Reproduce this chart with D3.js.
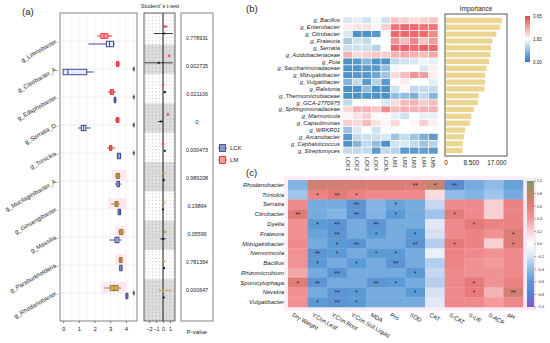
<!DOCTYPE html>
<html>
<head>
<meta charset="utf-8">
<script src="https://cdn.jsdelivr.net/npm/d3@7"></script>
<style>
  body { margin: 0; background: #fff; }
  text { font-family: "Liberation Sans", Arial, sans-serif; fill: #222; }
</style>
</head>
<body>
<svg id="chart" width="550" height="343"></svg>
<script>
// ---------- panel (a) data ----------
const genera = ["g_Limnobacter", "g_Citrobacter_A", "g_Edaphobacter", "g_Serratia_D", "g_Trinickia",
  "g_Mucilaginibacter_A", "g_Ginsengibacter", "g_Massilia", "g_Paraburkholderia", "g_Rhodanobacter"];
// [min, q1, median, q3, max]
const lmBox = [[2.2, 2.4, 2.6, 2.85, 3.1], [3.35, 3.4, 3.48, 3.55, 3.6], [2.85, 3.0, 3.1, 3.2, 3.35],
  [3.3, 3.38, 3.45, 3.55, 3.6], [2.8, 2.95, 3.05, 3.1, 3.3], [3.3, 3.38, 3.48, 3.58, 3.65],
  [3.05, 3.3, 3.4, 3.5, 3.6], [3.5, 3.58, 3.68, 3.8, 3.9], [3.5, 3.58, 3.65, 3.75, 3.8],
  [2.6, 3.0, 3.25, 3.5, 3.7]];
const lckBox = [[1.6, 2.75, 2.95, 3.2, 3.3], [0.0, 0.0, 0.3, 1.5, 1.95], [3.2, 3.25, 3.3, 3.35, 3.4],
  [0.95, 1.15, 1.3, 1.45, 1.75], [3.4, 3.45, 3.55, 3.65, 3.7], [3.3, 3.42, 3.5, 3.58, 3.7],
  [3.45, 3.5, 3.58, 3.65, 3.7], [2.95, 3.3, 3.42, 3.55, 3.7], [3.55, 3.6, 3.68, 3.75, 3.8],
  [3.95, 4.0, 4.05, 4.12, 4.15]];
const shaded = [0, 0, 0, 0, 0, 1, 1, 1, 1, 1];
const edgeMark = [0, 1, 1, 1, 1, 0, 0, 0, 0, 1];
// t-test: [mean, lo, hi]
const tLm = [[0.3, -0.1, 0.7], [0.85, 0.8, 0.9], [0.0, -0.1, 0.1], [0.7, 0.6, 0.8], [0.0, -0.15, 0.15],
  [0.1, 0.0, 0.2], [0.1, -0.1, 0.3], [0.3, 0.2, 0.4], [0.1, 0.0, 0.2], [0.0, -0.7, 1.3]];
const tDiff = [[0.15, -1.3, 1.4], [-0.6, -2.6, 1.4], [0.25, 0.1, 0.4], [-0.3, -0.7, 0.0], [0.25, 0.15, 0.35],
  [0.1, 0.0, 0.2], [0.0, -0.1, 0.1], [0.0, -0.4, 0.4], [0.15, 0.05, 0.25], [0.1, 0.0, 0.2]];
const pValues = ["0.778931", "0.002725", "0.021106", "0", "0.000473", "0.989208", "0.19864", "0.05599", "0.781354", "0.000647"];
const boxTicks = [0, 1, 2, 3, 4];
const tTicks = [-2, -1, 0, 1];

// ---------- panel (b) data ----------
const taxaB = ["g_Bacillus", "g_Enterobacter", "g_Citrobacter", "g_Frateuria", "g_Serratia", "g_Acidobacteriaceae",
  "g_Puia", "g_Saccharimonadaceae", "g_Mizugakiibacter", "g_Vulgatibacter", "g_Ralstonia", "g_Thermomicrobiaceae",
  "g_GCA-2770975", "g_Sphingomonadaceae", "g_Marmoricola", "g_Capsulimonas", "g_WRKR01", "g_Arcanobacter",
  "g_Cephaloticoccus", "g_Streptomyces"];
const samples = ["LCK1", "LCK2", "LCK3", "LCK4", "LCK5", "LM1", "LM2", "LM3", "LM4", "LM5"];
const abund = [
  [1.5, 1.6, 1.4, 1.7, 1.4, 2.4, 2.3, 2.2, 2.3, 2.4],
  [2.0, 2.1, 2.1, 1.9, 2.3, 3.2, 3.3, 3.3, 3.2, 3.2],
  [1.5, 0.3, 0.3, 0.4, 1.9, 3.3, 3.3, 3.3, 3.3, 3.0],
  [1.1, 1.4, 1.3, 1.8, 1.8, 2.9, 2.5, 3.0, 2.4, 2.8],
  [1.4, 1.4, 1.4, 1.2, 1.8, 3.3, 3.4, 3.3, 3.4, 3.3],
  [2.6, 2.2, 2.3, 2.4, 2.3, 2.6, 2.7, 2.6, 2.5, 2.7],
  [0.3, 0.4, 0.8, 0.3, 0.3, 1.3, 1.4, 1.5, 1.7, 1.6],
  [0.3, 0.3, 0.4, 0.4, 0.9, 1.7, 1.8, 1.8, 1.5, 2.0],
  [0.3, 0.4, 0.4, 0.6, 1.0, 2.2, 2.5, 2.9, 2.8, 2.0],
  [0.8, 1.3, 0.4, 1.2, 0.4, 1.8, 2.0, 1.8, 1.8, 1.6],
  [0.3, 0.3, 0.9, 0.3, 0.3, 1.4, 1.9, 1.3, 1.3, 1.3],
  [0.3, 0.3, 0.3, 0.3, 0.3, 0.9, 0.9, 0.7, 1.3, 0.8],
  [1.3, 1.8, 1.9, 1.8, 1.5, 2.2, 2.5, 2.6, 2.3, 2.5],
  [2.2, 2.6, 2.6, 2.4, 3.0, 2.5, 2.6, 2.6, 2.6, 2.6],
  [1.9, 2.1, 2.3, 1.9, 1.9, 1.6, 1.4, 1.8, 1.6, 1.6],
  [2.3, 2.2, 2.5, 2.1, 1.9, 2.2, 1.8, 1.9, 2.3, 2.0],
  [1.0, 1.5, 1.8, 1.4, 1.8, 1.8, 1.8, 1.8, 1.8, 1.8],
  [0.4, 1.3, 1.4, 1.4, 1.5, 1.0, 1.3, 1.0, 0.7, 0.4],
  [0.3, 0.8, 1.3, 0.9, 0.3, 1.4, 1.5, 1.3, 1.0, 1.2],
  [1.3, 1.3, 1.3, 0.4, 1.3, 1.2, 0.4, 0.4, 0.5, 0.4]];
const importance = [18.6, 18.1, 16.8, 15.4, 15.0, 14.8, 14.3, 13.5, 13.0, 13.0,
  12.8, 10.9, 10.6, 9.3, 8.4, 7.9, 6.4, 6.0, 5.6, 5.5];
const impTicks = [0, 8.5, 17];
const abundTicks = [0, 1.82, 3.65];

// ---------- panel (c) data ----------
const taxaC = ["Rhodanobacter", "Trinickia", "Serratia", "Citrobacter", "Dyella", "Frateuria", "Mizugakiibacter",
  "Nemorincola", "Bacillus", "Rhizomicrobium", "Sporocytophaga", "Nevskia", "Vulgatibacter"];
const factors = ["Dry Weight", "Y.Con.Leaf", "Y.Con.Root", "Y.Con.Soil Liquid", "MDA", "Pro", "SOD", "CAT",
  "S-CAT", "S-UE", "S-ACP", "pH"];
const corr = [
  [-0.45, 0.7, 0.7, 0.68, 0.66, 0.66, 0.65, 0.75, -0.7, -0.5, -0.4, -0.55],
  [-0.35, 0.55, 0.62, 0.55, 0.5, 0.5, 0.5, 0.15, -0.4, -0.45, -0.35, -0.5],
  [0.5, -0.5, -0.5, -0.65, -0.45, -0.55, -0.5, -0.25, 0.5, 0.5, 0.2, 0.55],
  [0.65, -0.5, -0.45, -0.65, -0.45, -0.6, -0.5, -0.35, 0.62, 0.5, 0.2, 0.55],
  [0.45, -0.6, -0.65, -0.5, -0.65, -0.5, -0.5, -0.15, 0.5, 0.62, 0.55, 0.55],
  [0.45, -0.55, -0.65, -0.5, -0.6, -0.5, -0.6, -0.2, 0.5, 0.55, 0.45, 0.65],
  [0.5, -0.5, -0.6, -0.65, -0.5, -0.5, -0.65, -0.3, 0.62, 0.55, 0.2, 0.65],
  [0.45, -0.65, -0.6, -0.5, -0.6, -0.6, -0.5, -0.1, 0.55, 0.5, 0.45, 0.5],
  [0.45, -0.6, -0.5, -0.6, -0.5, -0.65, -0.5, -0.3, 0.55, 0.45, 0.4, 0.5],
  [0.35, -0.5, -0.65, -0.5, -0.5, -0.5, -0.6, -0.25, 0.5, 0.45, 0.45, 0.5],
  [0.65, -0.65, -0.5, -0.5, -0.65, -0.6, -0.5, -0.3, 0.5, 0.62, 0.45, 0.55],
  [0.45, -0.5, -0.65, -0.6, -0.5, -0.5, -0.6, -0.2, 0.5, 0.6, 0.3, 0.7],
  [0.45, -0.6, -0.65, -0.6, -0.5, -0.5, -0.5, -0.15, 0.5, 0.5, 0.4, 0.5]];
// [row, col, mark]
const stars = [[0, 6, "**"], [0, 7, "*"], [0, 8, "**"],
  [1, 1, "*"], [1, 2, "**"], [1, 3, "*"],
  [2, 3, "**"], [2, 5, "*"],
  [3, 0, "**"], [3, 3, "**"], [3, 5, "*"], [3, 8, "*"],
  [4, 1, "*"], [4, 2, "**"], [4, 4, "**"], [4, 9, "*"],
  [5, 2, "**"], [5, 4, "*"], [5, 6, "*"], [5, 11, "*"],
  [6, 2, "*"], [6, 3, "**"], [6, 6, "**"], [6, 8, "*"], [6, 11, "*"],
  [7, 1, "**"], [7, 2, "*"], [7, 4, "*"], [7, 5, "*"],
  [8, 1, "*"], [8, 3, "*"], [8, 5, "**"],
  [9, 2, "**"], [9, 6, "*"],
  [10, 0, "*"], [10, 1, "**"], [10, 4, "**"], [10, 5, "*"], [10, 9, "*"],
  [11, 2, "**"], [11, 3, "*"], [11, 6, "*"], [11, 9, "*"], [11, 11, "**"],
  [12, 1, "*"], [12, 2, "**"], [12, 3, "*"]];
const corrTicks = [1, 0.8, 0.6, 0.4, 0.2, 0, -0.2, -0.4, -0.6, -0.8, -1];

const svg = d3.select("#chart");
const defs = svg.append("defs");

// ================= panel (a) =================
svg.append("text").attr("x", 22).attr("y", 15).attr("font-size", 9.5).text("(a)");

const xA = d3.scaleLinear().domain([-0.2, 4.7]).range([60, 137]);
const yA = d3.scalePoint().domain(genera).range([13, 321]).padding(1);

const gA = svg.append("g");
gA.selectAll("line.vg").data(d3.range(0, 4.51, 0.5)).join("line")
  .attr("x1", d => xA(d)).attr("x2", d => xA(d)).attr("y1", 13).attr("y2", 321)
  .attr("stroke", "#e6e6e6").attr("stroke-width", 0.6);
gA.selectAll("line.hg").data(genera).join("line")
  .attr("x1", 60).attr("x2", 137).attr("y1", d => yA(d)).attr("y2", d => yA(d))
  .attr("stroke", "#e6e6e6").attr("stroke-width", 0.6);

// pink shading
gA.selectAll("rect.shade").data(genera.filter((g, i) => shaded[i])).join("rect")
  .attr("x", d => xA(lmBox[genera.indexOf(d)][0]) - 3)
  .attr("width", d => xA(4.05) - xA(lmBox[genera.indexOf(d)][0]) + 3)
  .attr("y", d => yA(d) - 11).attr("height", 11)
  .attr("fill", "#fde8f0");

function drawBox(g, vals, cy, stroke, fill, h) {
  const [mn, q1, md, q3, mx] = vals;
  g.append("line").attr("x1", xA(mn)).attr("x2", xA(mx)).attr("y1", cy).attr("y2", cy)
    .attr("stroke", stroke).attr("stroke-width", 0.9);
  g.append("rect").attr("x", xA(q1)).attr("width", Math.max(1.5, xA(q3) - xA(q1)))
    .attr("y", cy - h / 2).attr("height", h)
    .attr("fill", fill).attr("stroke", stroke).attr("stroke-width", 0.9);
  g.append("line").attr("x1", xA(md)).attr("x2", xA(md)).attr("y1", cy - h / 2).attr("y2", cy + h / 2)
    .attr("stroke", stroke).attr("stroke-width", 0.9);
}
genera.forEach((g, i) => {
  const cy = yA(g);
  if (shaded[i]) drawBox(gA, lmBox[i], cy - 5, "#9a7428", "#d7b064", 5);
  else drawBox(gA, lmBox[i], cy - 5, "#e3171c", "#f6b3b3", 4.5);
  drawBox(gA, lckBox[i], cy + 3, "#2e3a8c", "#e8eaf8", 5.5);
  if (edgeMark[i]) {
    gA.append("line").attr("x1", xA(4.52)).attr("x2", xA(4.52)).attr("y1", cy - 3).attr("y2", cy + 3)
      .attr("stroke", "#555").attr("stroke-width", 0.5);
    gA.append("ellipse").attr("cx", xA(4.52) - 0.5).attr("cy", cy).attr("rx", 1).attr("ry", 1.8)
      .attr("fill", "#444");
  }
});
gA.append("rect").attr("x", 60).attr("y", 13).attr("width", 77).attr("height", 308)
  .attr("fill", "none").attr("stroke", "#777").attr("stroke-width", 0.9);

gA.selectAll("text.yl").data(genera).join("text")
  .attr("x", 58).attr("y", d => yA(d) + 1)
  .attr("transform", d => `rotate(-30,58,${yA(d) + 1})`)
  .attr("text-anchor", "end").attr("font-size", 6).attr("fill", "#333")
  .text(d => d + ",");

const axA = gA.append("g").attr("transform", "translate(0,321)")
  .call(d3.axisBottom(xA).tickValues(boxTicks).tickSize(2).tickFormat(d3.format("d")));
axA.select(".domain").remove();
axA.selectAll("text").attr("font-size", 6).attr("fill", "#333").attr("dy", "0.9em");
axA.selectAll("line").attr("stroke", "#777");

// t-test panel
const xT = d3.scaleLinear().domain([-2.7, 1.7]).range([144, 175]);
const yT = d3.scalePoint().domain(genera).range([30, 294]);
const stepT = yT.step();
const gT = svg.append("g");
gT.append("text").attr("x", 160).attr("y", 8).attr("text-anchor", "middle").attr("font-size", 5.5)
  .text("Student' s t-test");
gT.selectAll("rect.band").data(genera.filter((g, i) => i % 2 === 1)).join("rect")
  .attr("x", 144).attr("width", 31)
  .attr("y", d => yT(d) - stepT / 2)
  .attr("height", (d, i, n) => i === n.length - 1 ? 321 - (yT(d) - stepT / 2) : stepT)
  .attr("fill", "#dcdcdc");
gT.selectAll("line.dot").data([-2.5, -2, -1.5, -1, -0.5, 0.5, 1, 1.5]).join("line")
  .attr("x1", d => xT(d)).attr("x2", d => xT(d)).attr("y1", 13).attr("y2", 321)
  .attr("stroke", "#999").attr("stroke-width", 0.5).attr("stroke-dasharray", "1.2,2.2");
gT.append("line").attr("x1", xT(0)).attr("x2", xT(0)).attr("y1", 13).attr("y2", 321)
  .attr("stroke", "#111").attr("stroke-width", 1);
genera.forEach((g, i) => {
  const y1 = yT(g) - 3.5, y2 = yT(g) + 3.5;
  const c = shaded[i] ? "#c9a050" : "#ee4a6a";
  gT.append("line").attr("x1", xT(tLm[i][1])).attr("x2", xT(tLm[i][2])).attr("y1", y1).attr("y2", y1)
    .attr("stroke", c).attr("stroke-width", 0.9);
  gT.append("rect").attr("x", xT(tLm[i][0]) - 1.2).attr("y", y1 - 1.2).attr("width", 2.4).attr("height", 2.4)
    .attr("fill", c);
  gT.append("line").attr("x1", xT(tDiff[i][1])).attr("x2", xT(tDiff[i][2])).attr("y1", y2).attr("y2", y2)
    .attr("stroke", "#111").attr("stroke-width", 0.8);
  gT.append("circle").attr("cx", xT(tDiff[i][0])).attr("cy", y2).attr("r", 1.1).attr("fill", "#111");
});
gT.append("rect").attr("x", 144).attr("y", 13).attr("width", 31).attr("height", 308)
  .attr("fill", "none").attr("stroke", "#555").attr("stroke-width", 0.9);
const axT = gT.append("g").attr("transform", "translate(0,321)")
  .call(d3.axisBottom(xT).tickValues(tTicks).tickSize(2).tickFormat(d3.format("d")));
axT.select(".domain").remove();
axT.selectAll("text").attr("font-size", 5.5).attr("fill", "#333").attr("dy", "0.9em");
axT.selectAll("line").attr("stroke", "#777");

// p-value panel
const gP = svg.append("g");
gP.append("rect").attr("x", 181).attr("y", 13).attr("width", 32).attr("height", 308)
  .attr("fill", "#fff").attr("stroke", "#777").attr("stroke-width", 0.9);
gP.selectAll("text.pv").data(genera).join("text")
  .attr("x", 197).attr("y", d => yA(d) - 1).attr("text-anchor", "middle")
  .attr("font-size", 5.3).attr("fill", "#333")
  .text((d, i) => pValues[i]);
gP.append("text").attr("x", 197).attr("y", 334).attr("text-anchor", "middle").attr("font-size", 6)
  .text("P-value");

// legend
const legA = svg.append("g");
[["LCK", "#2e3a8c", "#8c95cc", 148], ["LM", "#e3171c", "#f59a9a", 160]].forEach(([lab, s, f, y]) => {
  legA.append("line").attr("x1", 218).attr("x2", 227).attr("y1", y).attr("y2", y).attr("stroke", s).attr("stroke-width", 0.8);
  legA.append("rect").attr("x", 219.5).attr("y", y - 3.5).attr("width", 6).attr("height", 7)
    .attr("fill", f).attr("stroke", s).attr("stroke-width", 0.8);
  legA.append("text").attr("x", 230).attr("y", y + 2).attr("font-size", 6).text(lab);
});

// ================= panel (b) =================
svg.append("text").attr("x", 246).attr("y", 12).attr("font-size", 9.5).text("(b)");
const xB = d3.scaleBand().domain(samples).range([343, 438]);
const yB = d3.scaleBand().domain(taxaB).range([17, 154]);
const colB = d3.scaleLinear().domain(abundTicks).range(["#2b7cbb", "#ffffff", "#e8474c"]);
const gB = svg.append("g");
taxaB.forEach((t, r) => {
  gB.selectAll(null).data(abund[r]).join("rect")
    .attr("x", (d, c) => xB(samples[c])).attr("y", yB(t))
    .attr("width", xB.bandwidth()).attr("height", yB.bandwidth())
    .attr("fill", d => colB(d)).attr("stroke", "#fff").attr("stroke-width", 0.6);
});
gB.selectAll("text.rl").data(taxaB).join("text")
  .attr("x", 340).attr("y", d => yB(d) + yB.bandwidth() / 2 + 2)
  .attr("text-anchor", "end").attr("font-size", 5.8).attr("font-style", "italic")
  .text(d => d);
gB.selectAll("text.cl").data(samples).join("text")
  .attr("transform", d => `translate(${xB(d) + xB.bandwidth() / 2 - 2},157) rotate(90)`)
  .attr("font-size", 5.5).text(d => d);

// importance
const xI = d3.scaleLinear().domain([0, 17]).range([446, 497]);
const gI = svg.append("g");
gI.append("text").attr("x", 476).attr("y", 11).attr("text-anchor", "middle").attr("font-size", 6.5)
  .text("Importance");
gI.selectAll("rect.bar").data(importance).join("rect")
  .attr("x", xI(0)).attr("y", (d, i) => yB(taxaB[i]) + 0.8)
  .attr("width", d => xI(d) - xI(0)).attr("height", yB.bandwidth() - 1.6)
  .attr("fill", "#ecd591");
gI.append("rect").attr("x", 445).attr("y", 14).attr("width", 62).attr("height", 142)
  .attr("fill", "none").attr("stroke", "#444").attr("stroke-width", 0.9);
gI.selectAll("text.it").data(impTicks).join("text")
  .attr("x", d => xI(d)).attr("y", 165).attr("text-anchor", "middle").attr("font-size", 6.3)
  .text(d => d === 0 ? "0" : d3.format(".3f")(d));

// colour bar (b)
const gradB = defs.append("linearGradient").attr("id", "gradB").attr("x1", 0).attr("x2", 0).attr("y1", 1).attr("y2", 0);
abundTicks.forEach(v => gradB.append("stop").attr("offset", v / 3.65).attr("stop-color", colB(v)));
const yCB = d3.scaleLinear().domain([0, 3.65]).range([62, 16]);
svg.append("rect").attr("x", 525).attr("y", 16).attr("width", 5).attr("height", 46).attr("fill", "url(#gradB)");
svg.selectAll("text.cb").data(abundTicks).join("text")
  .attr("x", 533).attr("y", d => yCB(d) + 1.5).attr("font-size", 4.5).text(d => d.toFixed(2));

// ================= panel (c) =================
svg.append("text").attr("x", 246).attr("y", 176).attr("font-size", 9.5).text("(c)");
const xC = d3.scaleBand().domain(factors).range([288, 523]);
const yC = d3.scaleBand().domain(taxaC).range([180, 307]);
const corrStops = [-1, -0.8, -0.6, -0.4, -0.2, 0, 0.2, 0.4, 0.6, 0.8, 1];
const colC = d3.scaleLinear().domain(corrStops)
  .range(["#7b5cc4", "#5d7fd0", "#5b9bd5", "#8fbbe6", "#d6e2f4", "#ffffff", "#f8d0d4", "#f29a9c", "#e97a7a", "#b8876a", "#7f9a66"]);
const gC = svg.append("g");
gC.append("rect").attr("x", 284).attr("y", 176).attr("width", 241).attr("height", 135).attr("fill", "#fdeefa");
taxaC.forEach((t, r) => {
  gC.selectAll(null).data(corr[r]).join("rect")
    .attr("x", (d, c) => xC(factors[c])).attr("y", yC(t))
    .attr("width", xC.bandwidth() + 0.3).attr("height", yC.bandwidth() + 0.3)
    .attr("fill", d => colC(d));
});
gC.selectAll("text.st").data(stars).join("text")
  .attr("x", d => xC(factors[d[1]]) + xC.bandwidth() / 2)
  .attr("y", d => yC(taxaC[d[0]]) + yC.bandwidth() / 2 + 3)
  .attr("text-anchor", "middle").attr("font-size", 6.3).attr("fill", "#1a1a2a")
  .text(d => d[2]);
gC.selectAll("text.rl").data(taxaC).join("text")
  .attr("x", 284).attr("y", d => yC(d) + yC.bandwidth() / 2 + 2)
  .attr("text-anchor", "end").attr("font-size", 6).attr("font-style", "italic")
  .text(d => d);
gC.selectAll("text.cl").data(factors).join("text")
  .attr("transform", d => `translate(${xC(d) + xC.bandwidth() / 2 - 6},316) rotate(30)`)
  .attr("font-size", 5.8).text(d => d);

// colour bar (c)
const gradC = defs.append("linearGradient").attr("id", "gradC").attr("x1", 0).attr("x2", 0).attr("y1", 1).attr("y2", 0);
corrStops.forEach(v => gradC.append("stop").attr("offset", (v + 1) / 2).attr("stop-color", colC(v)));
const yCC = d3.scaleLinear().domain([-1, 1]).range([307, 181]);
svg.append("rect").attr("x", 525).attr("y", 178).attr("width", 11).attr("height", 132).attr("fill", "#fbe6f6");
svg.append("rect").attr("x", 527).attr("y", 181).attr("width", 7).attr("height", 126).attr("fill", "url(#gradC)");
svg.selectAll("line.cct").data(corrTicks).join("line")
  .attr("x1", 534).attr("x2", 536).attr("y1", d => yCC(d)).attr("y2", d => yCC(d))
  .attr("stroke", "#333").attr("stroke-width", 0.4);
svg.selectAll("text.cct").data(corrTicks).join("text")
  .attr("x", 537).attr("y", d => yCC(d) + 1.3).attr("font-size", 3.6)
  .text(d => d3.format(".1f")(d));
</script>
</body>
</html>
